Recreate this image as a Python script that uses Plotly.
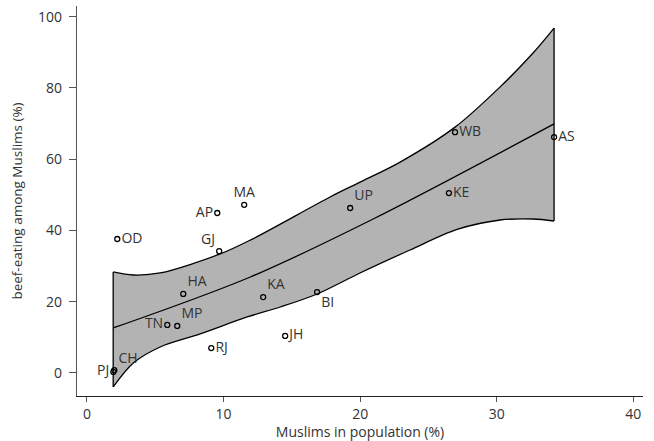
import plotly.graph_objects as go

# State data: Muslims in population (%) vs beef-eating among Muslims (%)
states = ["PJ", "CH", "OD", "AP", "MA", "GJ", "HA", "TN", "MP", "RJ",
          "KA", "BI", "JH", "UP", "WB", "KE", "AS"]
muslim_pct = [1.93, 2.0, 2.22, 9.54, 11.51, 9.68, 7.05, 5.88, 6.61, 9.1,
              12.9, 16.85, 14.51, 19.27, 26.95, 26.5, 34.2]
beef_pct = [0.3, 0.8, 37.6, 44.9, 47.2, 34.2, 22.2, 13.5, 13.2, 7.0,
            21.3, 22.7, 10.4, 46.3, 67.6, 50.5, 66.2]
label_pos = ["middle left", "top right", "middle right", "middle left", "top center",
             "top left", "top right", "middle left", "top right", "middle right",
             "top right", "bottom right", "middle right", "top right", "middle right",
             "middle right", "middle right"]

# Fitted curve and confidence band
fit_x = [1.92, 11.96, 21.1, 34.2]
fit_y = [12.63, 26.94, 43.5, 69.9]

band_up_x = [1.92, 3.39, 5.36, 9.75, 11.96, 17.8, 19.85, 22.93, 26.95, 30.25, 32.66, 34.2]
band_up_y = [28.35, 27.5, 28.07, 33.4, 37.3, 49.4, 53.3, 59.2, 69.0, 80.3, 89.8, 96.8]
band_lo_x = [1.92, 3.39, 5.36, 8.29, 11.73, 14.15, 16.85, 19.99, 23.65, 27.1, 30.25, 32.66, 34.2]
band_lo_y = [-3.93, 2.81, 7.30, 10.96, 15.72, 18.52, 22.17, 28.07, 34.52, 40.3, 42.94, 43.22, 42.66]

x_ticks = [0, 10, 20, 30, 40]
y_ticks = [0, 20, 40, 60, 80, 100]

FONT = "Open Sans"
TXT = "#333333"
LW = 1.3

fig = go.Figure()

# Band (lower then upper with fill)
fig.add_trace(go.Scatter(x=band_lo_x, y=band_lo_y, mode="lines",
                         line=dict(color="black", width=LW, shape="spline", smoothing=0.9),
                         hoverinfo="skip", showlegend=False))
fig.add_trace(go.Scatter(x=band_up_x, y=band_up_y, mode="lines", fill="tonexty",
                         fillcolor="#b3b3b3",
                         line=dict(color="black", width=LW, shape="spline", smoothing=0.9),
                         hoverinfo="skip", showlegend=False))
# Vertical band ends
fig.add_trace(go.Scatter(x=[band_lo_x[0], band_up_x[0]], y=[band_lo_y[0], band_up_y[0]],
                         mode="lines", line=dict(color="black", width=LW),
                         hoverinfo="skip", showlegend=False))
fig.add_trace(go.Scatter(x=[band_lo_x[-1], band_up_x[-1]], y=[band_lo_y[-1], band_up_y[-1]],
                         mode="lines", line=dict(color="black", width=LW),
                         hoverinfo="skip", showlegend=False))
# Fit line
fig.add_trace(go.Scatter(x=fit_x, y=fit_y, mode="lines",
                         line=dict(color="black", width=LW, shape="spline", smoothing=0.9),
                         hoverinfo="skip", showlegend=False))
# Points with labels
fig.add_trace(go.Scatter(x=muslim_pct, y=beef_pct, mode="markers+text",
                         text=states, textposition=label_pos,
                         textfont=dict(family=FONT, size=14, color=TXT),
                         marker=dict(symbol="circle-open", size=5, color="black",
                                     line=dict(width=1.3, color="black")),
                         showlegend=False))

fig.update_layout(
    width=654, height=441,
    margin=dict(l=77, r=11, t=6, b=45),
    plot_bgcolor="white", paper_bgcolor="white",
    font=dict(family=FONT, size=14, color=TXT),
    xaxis=dict(range=[-0.73, 40.71], tickvals=x_ticks, showgrid=False, zeroline=False,
               automargin=False,
               showline=True, linecolor="#222222", linewidth=1.2,
               ticks="outside", ticklen=5, tickcolor="#555555",
               tickfont=dict(size=14, color=TXT),
               title=dict(text="Muslims in population (%)", font=dict(size=14, color=TXT), standoff=4)),
    yaxis=dict(range=[-6.46, 103.0], tickvals=y_ticks, showgrid=False, zeroline=False,
               automargin=False,
               showline=True, linecolor="#555555", linewidth=1.2,
               ticks="outside", ticklen=7, tickcolor="#555555",
               tickfont=dict(size=14, color=TXT), ticklabelstandoff=4,
               title=dict(text="beef-eating among Muslims (%)", font=dict(size=13.5, color=TXT), standoff=12)),
)

fig.write_html("out.html", config={"displayModeBar": False},
               post_script="document.body.style.margin='0';document.body.style.overflow='hidden';")
